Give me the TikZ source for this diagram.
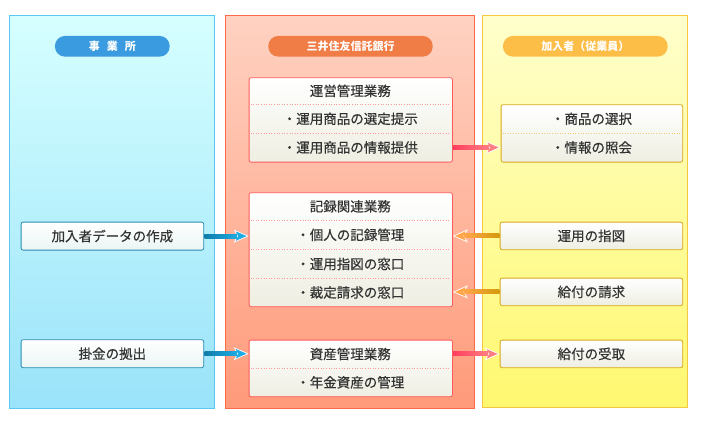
\documentclass[tikz,border=0pt]{standalone}
\usepackage{fontspec}
\setmainfont{Noto Sans CJK JP}
\newfontfamily\rowfont{Noto Sans CJK JP}[FakeBold=0.4]
\usetikzlibrary{arrows.meta,calc}
\definecolor{lpTop}{HTML}{D6FFFF}
\definecolor{lpBot}{HTML}{9AE3FA}
\definecolor{lpLine}{HTML}{5CC8F2}
\definecolor{mpTop}{HTML}{FFD2C2}
\definecolor{mpBot}{HTML}{FF9A7A}
\definecolor{mpLine}{HTML}{FF6A48}
\definecolor{rpTop}{HTML}{FFFFCC}
\definecolor{rpBot}{HTML}{FFF870}
\definecolor{rpLine}{HTML}{F5C840}
\definecolor{pillBlue}{HTML}{3A9BE0}
\definecolor{pillOrange}{HTML}{F07C46}
\definecolor{pillYellow}{HTML}{FDBE48}
\definecolor{boxBot}{HTML}{EEEEE2}
\definecolor{lbBot}{HTML}{EAF6F4}
\definecolor{lbLine}{HTML}{2A8CB2}
\definecolor{mbLine}{HTML}{FF5A5A}
\definecolor{rbLine}{HTML}{D8A818}
\definecolor{msepC}{HTML}{FF9A9A}
\definecolor{rsepC}{HTML}{F0C870}
\definecolor{txt}{HTML}{333333}
\definecolor{blueDark}{HTML}{0F7CAA}
\definecolor{blueHead}{HTML}{1EAAE2}
\definecolor{pinkDark}{HTML}{FF3E5E}
\definecolor{pinkHead}{HTML}{FF7E82}
\definecolor{orDark}{HTML}{D49A0C}
\definecolor{orHead}{HTML}{FFA64A}
\tikzset{
  panel/.style={line width=0.8pt},
  pill/.style={rounded corners=10pt, text=white, inner sep=0pt, minimum height=20.7pt,
    font=\fontsize{11}{11}\selectfont\bfseries},
  boxbase/.style={rounded corners=2pt, line width=0.8pt, inner sep=0pt, anchor=north west,
    top color=white, bottom color=boxBot},
  lbox/.style={boxbase, draw=lbLine, bottom color=lbBot},
  mbox/.style={boxbase, draw=mbLine},
  rbox/.style={boxbase, draw=rbLine},
  rowtext/.style={text=txt, inner sep=0pt, font=\rowfont\fontsize{13.5}{13.5}\selectfont},
  msep/.style={draw=msepC, dotted, line width=0.6pt},
  rsep/.style={draw=rsepC, dotted, line width=0.6pt},
  fat/.style={line width=4pt,
    -{Stealth[length=15pt,width=13pt,inset=3.5pt,fill=#1,color=white,line width=0.7pt]}},
  barrow/.style={fat=blueHead, draw=blueHead},
  parrow/.style={fat=pinkHead, draw=pinkHead},
  oarrow/.style={fat=orHead, draw=orHead},
}
\begin{document}
\begin{tikzpicture}[x=1pt,y=-1pt]
\useasboundingbox[fill=white] (0,0) rectangle (701,428);
% panels
\path[panel, draw=lpLine, top color=lpTop, bottom color=lpBot] (9.5,15.5) rectangle (214.5,408);
\path[panel, draw=mpLine, top color=mpTop, bottom color=mpBot] (225.5,15.5) rectangle (474.5,408);
\path[panel, draw=rpLine, top color=rpTop, bottom color=rpBot] (482.5,15.5) rectangle (687.5,407);
% pills
\node[pill, fill=pillBlue, minimum width=114.7pt] (p1) at (112.3,46.3) {事\hspace{7pt}業\hspace{7pt}所};
\node[pill, fill=pillOrange, minimum width=164.4pt] (p2) at (350.5,46.3) {三井住友信託銀行};
\node[pill, fill=pillYellow, minimum width=164.7pt] (p3) at (585.3,46.3) {加入者（従業員）};
% left boxes
\node[lbox, minimum width=182.6pt, minimum height=28pt] (l1) at (20.7,221.7) {};
\node[rowtext] (l1t) at (l1.center) {加入者データの作成};
\node[lbox, minimum width=182.6pt, minimum height=28pt] (l2) at (20.7,339.3) {};
\node[rowtext] (l2t) at (l2.center) {掛金の拠出};
% middle box 1
\node[mbox, minimum width=203.3pt, minimum height=84.4pt] (mb1) at (248.7,77.3) {};
\node[rowtext] (m1a) at (350.3,90.8) {運営管理業務};
\node[rowtext] (m1b) at (350.3,118.8) {・運用商品の選定提示};
\node[rowtext] (m1c) at (350.3,147.5) {・運用商品の情報提供};
\draw[msep] (250.5,104.3) -- (450.2,104.3);
\draw[msep] (250.5,133.3) -- (450.2,133.3);
% middle box 2
\node[mbox, minimum width=203.3pt, minimum height=114pt] (mb2) at (248.7,192.3) {};
\node[rowtext] (m2a) at (350.3,206.3) {記録関連業務};
\node[rowtext] (m2b) at (350.3,234.8) {・個人の記録管理};
\node[rowtext] (m2c) at (350.3,264) {・運用指図の窓口};
\node[rowtext] (m2d) at (350.3,292.5) {・裁定請求の窓口};
\draw[msep] (250.5,220.3) -- (450.2,220.3);
\draw[msep] (250.5,249.3) -- (450.2,249.3);
\draw[msep] (250.5,278.7) -- (450.2,278.7);
% middle box 3
\node[mbox, minimum width=203.3pt, minimum height=56.6pt] (mb3) at (248.7,339.7) {};
\node[rowtext] (m3a) at (350.3,354) {資産管理業務};
\node[rowtext] (m3b) at (350.3,382.3) {・年金資産の管理};
\draw[msep] (250.5,368.3) -- (450.2,368.3);
% right boxes
\node[rbox, minimum width=181.6pt, minimum height=57.4pt] (r1) at (500.7,104.3) {};
\node[rowtext] (r1a) at (591.5,118.8) {・商品の選択};
\node[rowtext] (r1b) at (591.5,147.5) {・情報の照会};
\draw[rsep] (502.5,133.3) -- (680.5,133.3);
\node[rbox, minimum width=182.6pt, minimum height=27.6pt] (r2) at (499.7,221.7) {};
\node[rowtext] (r2t) at (r2.center) {運用の指図};
\node[rbox, minimum width=182.6pt, minimum height=27.6pt] (r3) at (499.7,277.7) {};
\node[rowtext] (r3t) at (r3.center) {給付の請求};
\node[rbox, minimum width=182.6pt, minimum height=27.6pt] (r4) at (499.7,339.7) {};
\node[rowtext] (r4t) at (r4.center) {給付の受取};
% arrows (connector + gradient overlay on shaft)
\draw[barrow] (l1.east) -- (l1.east -| mb2.west);
\path[left color=blueDark, right color=blueHead] ($(l1.east)+(0.4,-2)$) rectangle ($(l1.east -| mb2.west)+(-11.5,2)$);
\draw[barrow] (l2.east) -- (l2.east -| mb3.west);
\path[left color=blueDark, right color=blueHead] ($(l2.east)+(0.4,-2)$) rectangle ($(l2.east -| mb3.west)+(-11.5,2)$);
\draw[parrow] (m1c.east -| mb1.east) -- (m1c.east -| r1.west);
\path[left color=pinkDark, right color=pinkHead] ($(m1c.east -| mb1.east)+(0.4,-2)$) rectangle ($(m1c.east -| r1.west)+(-11.5,2)$);
\draw[parrow] (r4.west -| mb3.east) -- (r4.west);
\path[left color=pinkDark, right color=pinkHead] ($(r4.west -| mb3.east)+(0.4,-2)$) rectangle ($(r4.west)+(-11.5,2)$);
\draw[oarrow] (r2.west) -- (r2.west -| mb2.east);
\path[left color=orHead, right color=orDark] ($(r2.west -| mb2.east)+(11.5,-2)$) rectangle ($(r2.west)+(-0.4,2)$);
\draw[oarrow] (r3.west) -- (r3.west -| mb2.east);
\path[left color=orHead, right color=orDark] ($(r3.west -| mb2.east)+(11.5,-2)$) rectangle ($(r3.west)+(-0.4,2)$);
\end{tikzpicture}
\end{document}
